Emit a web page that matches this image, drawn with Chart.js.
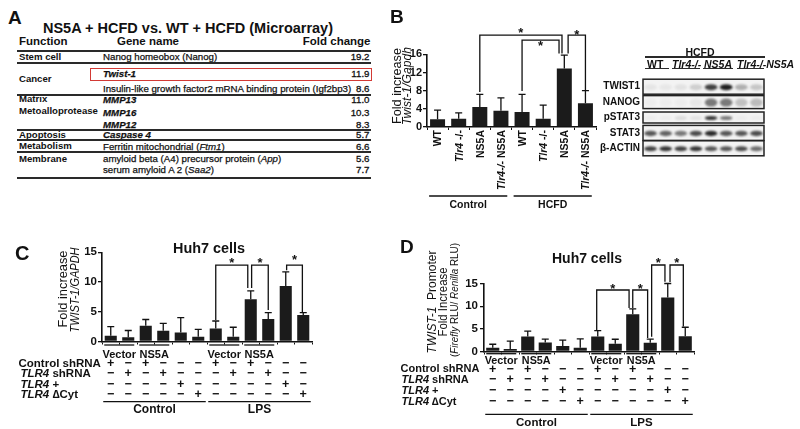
<!DOCTYPE html>
<html>
<head>
<meta charset="utf-8">
<script src="https://cdn.jsdelivr.net/npm/chart.js@4.4.1/dist/chart.umd.min.js"></script>
<style>
  body { margin: 0; background: #fff; }
  #fig { position: relative; width: 800px; height: 429px; overflow: hidden; color: #111;
         font-family: "Liberation Sans", Arial, Helvetica, sans-serif; }
  #fig canvas { position: absolute; }
  .t { position: absolute; white-space: nowrap; line-height: 1; }
  .ln { position: absolute; background: #2a2a2a; }
</style>
</head>
<body>
<div id="fig">
  <canvas id="chartB"></canvas>
  <canvas id="chartC"></canvas>
  <canvas id="chartD"></canvas>
  <canvas id="blot"></canvas>
</div>
<script>
// ---- data: panel A (microarray table)
const aFunctions = ['Stem cell', 'Cancer', 'Matrix', 'Metoalloprotease', 'Apoptosis', 'Metabolism', 'Membrane'];
const aGenes = ['Nanog homeobox (Nanog)', '<b><i>Twist-1</i></b>',
  'Insulin-like growth factor2 mRNA binding protein (Igf2bp3)',
  '<b><i>MMP13</i></b>', '<b><i>MMP16</i></b>', '<b><i>MMP12</i></b>', '<b><i>Caspase 4</i></b>',
  'Ferritin mitochondrial (<i>Ftm1</i>)', 'amyloid beta (A4) precursor protein (<i>App</i>)',
  'serum amyloid A 2 (<i>Saa2</i>)'];
const aFold = [19.2, 11.9, 8.6, 11.0, 10.3, 8.3, 5.7, 6.6, 5.6, 7.7];

// ---- data: panel B
const bLabels = ['WT', '<i>Tlr4</i> -/-', 'NS5A', '<i>Tlr4-/-</i> NS5A', 'WT', '<i>Tlr4</i> -/-', 'NS5A', '<i>Tlr4-/-</i> NS5A'];
const bMean = [1.7, 1.8, 4.4, 3.6, 3.3, 1.8, 12.9, 5.2];
const bErrTop = [3.7, 3.1, 7.2, 6.4, 7.2, 4.8, 15.8, 8.0];
const bGroups = [['Control', 0, 3], ['HCFD', 4, 7]];

// ---- data: western blot (HCFD)
const blotRows = ['TWIST1', 'NANOG', 'pSTAT3', 'STAT3', 'β-ACTIN'];
const blotTwist1 = [0.06, 0.05, 0.07, 0.16, 0.8, 0.95, 0.3, 0.2];
const blotNanog = [0.03, 0.03, 0.03, 0.05, 0.55, 0.55, 0.22, 0.25];
const blotPstat3 = [0.03, 0.03, 0.1, 0.07, 0.85, 0.55, 0.03, 0.03];
const blotStat3 = [0.7, 0.65, 0.55, 0.75, 0.9, 0.7, 0.7, 0.75];
const blotActin = [0.8, 0.85, 0.8, 0.85, 0.7, 0.7, 0.75, 0.6];
const blotGroups = ['WT', '<i>Tlr4-/-</i>', '<i>NS5A</i>', '<i>Tlr4-/-NS5A</i>'];

// ---- data: panels C and D (Huh7 cells)
const cMean = [0.95, 0.7, 2.65, 1.8, 1.5, 0.8, 2.2, 0.8, 7.1, 3.8, 9.35, 4.45];
const cErrTop = [2.5, 1.85, 3.7, 3.05, 4.0, 2.05, 3.45, 2.4, 8.5, 4.85, 11.7, 4.85];
const dMean = [0.85, 0.55, 3.3, 2.0, 1.2, 0.85, 3.3, 1.7, 8.2, 1.95, 11.9, 3.35];
const dErrTop = [1.6, 2.3, 4.5, 2.75, 2.5, 2.8, 4.6, 2.7, 9.4, 2.75, 15.0, 5.35];
const hLabels = ['1', '2', '3', '4', '5', '6', '7', '8', '9', '10', '11', '12'];
const rowNames = ['Control shRNA', '<i>TLR4</i> shRNA', '<i>TLR4</i> +', '<i>TLR4</i> ∆Cyt'];
const rowControlSh = ['+', '−', '+', '−', '−', '−', '+', '−', '+', '−', '−', '−'];
const rowTlr4Sh    = ['−', '+', '−', '+', '−', '−', '−', '+', '−', '+', '−', '−'];
const rowTlr4Plus  = ['−', '−', '−', '−', '+', '−', '−', '−', '−', '−', '+', '−'];
const rowTlr4Dcyt  = ['−', '−', '−', '−', '−', '+', '−', '−', '−', '−', '−', '+'];
const vecGroups = [['Vector', 0, 1], ['NS5A', 2, 3], ['Vector', 6, 7], ['NS5A', 8, 9]];
const treatGroups = [['Control', 0, 5], ['LPS', 6, 11]];

// significance brackets: bar a -> bar b, top level and leg ends in axis units
const bBrackets = [
  { a: 2, da: 0, b: 6, db: -0.11, top: 20.2, ya: 7.7, yb: 16.2, sy: -5 },
  { a: 4, da: 0, b: 6, db: -0.25, top: 19.1, ya: 7.9, yb: 16.2, sy: 3 },
  { a: 6, da: 0.18, b: 7, db: 0, top: 20.2, ya: 16.2, yb: 8.1, sy: -2.5 }
];
const cBrackets = [
  { a: 6, da: 0, b: 8, db: -0.17, top: 12.85, ya: 3.6, yb: 9.0, sy: -5 },
  { a: 8, da: 0.05, b: 9, db: 0, top: 12.85, ya: 9.0, yb: 5.3, sy: -5 },
  { a: 10, da: 0.05, b: 11, db: -0.05, top: 12.85, ya: 12.0, yb: 4.95, sy: -8 }
];
const dBrackets = [
  { a: 6, da: -0.06, b: 8, db: -0.21, top: 13.57, ya: 4.75, yb: 9.6, sy: -3.5 },
  { a: 8, da: 0, b: 9, db: -0.15, top: 13.57, ya: 9.6, yb: 3.0, sy: -3.5 },
  { a: 9, da: 0.08, b: 10, db: -0.16, top: 19.08, ya: 3.25, yb: 15.4, sy: -5 },
  { a: 10, da: 0.13, b: 11, db: -0.11, top: 19.08, ya: 15.35, yb: 5.5, sy: -5 }
];

const FONT = "'Liberation Sans', Arial, Helvetica, sans-serif";
const NARROW = "'Liberation Sans Narrow', 'Liberation Sans', Arial, sans-serif";
Chart.defaults.font.family = FONT;
Chart.defaults.color = '#111';

const fig = document.getElementById('fig');

// html text label, y is the vertical centre; w squeezes/stretches to a width
function lab(html, x, y, o = {}) {
  const el = document.createElement('div');
  el.className = 't';
  el.innerHTML = html;
  el.style.fontSize = (o.size || 10) + 'px';
  el.style.fontWeight = o.bold ? 'bold' : 'normal';
  if (o.italic) el.style.fontStyle = 'italic';
  if (o.stroke) el.style.webkitTextStroke = o.stroke + 'px #111';
  el.style.left = x + 'px';
  el.style.top = y + 'px';
  fig.appendChild(el);
  const s = o.w ? o.w / el.getBoundingClientRect().width : 1;
  const al = o.align || 'l';
  if (o.rot) {
    el.style.transform = `translate(-50%,-50%) rotate(-90deg) scaleX(${s})`;
  } else {
    const tx = al === 'c' ? '-50%' : al === 'r' ? '-100%' : '0px';
    el.style.transformOrigin = (al === 'c' ? '50%' : al === 'r' ? '100%' : '0%') + ' 50%';
    el.style.transform = `translate(${tx},-50%) scaleX(${s})`;
  }
  return el;
}
function hline(x0, x1, y, t = 1.6, color = '#2a2a2a') {
  const el = document.createElement('div');
  el.className = 'ln';
  el.style.left = x0 + 'px'; el.style.width = (x1 - x0) + 'px';
  el.style.top = (y - t / 2) + 'px'; el.style.height = t + 'px';
  el.style.background = color;
  fig.appendChild(el);
}

// canvas text with <i>..</i> parts
function drawRich(ctx, s, x, y, size, align, family) {
  const parts = [];
  const re = /<i>(.*?)<\/i>/g;
  let last = 0, m;
  while ((m = re.exec(s))) {
    if (m.index > last) parts.push([s.slice(last, m.index), false]);
    parts.push([m[1], true]);
    last = re.lastIndex;
  }
  if (last < s.length) parts.push([s.slice(last), false]);
  const font = it => `${it ? 'italic ' : ''}bold ${size}px ${family || FONT}`;
  let w = 0;
  parts.forEach(p => { ctx.font = font(p[1]); w += ctx.measureText(p[0]).width; });
  let cx = align === 'center' ? x - w / 2 : align === 'right' ? x - w : x;
  ctx.textAlign = 'left';
  ctx.textBaseline = 'middle';
  parts.forEach(p => { ctx.font = font(p[1]); ctx.fillText(p[0], cx, y); cx += ctx.measureText(p[0]).width; });
}

// ---------- Panel A: table
lab('A', 8, 16.5, { size: 19, bold: true });
lab('NS5A + HCFD vs. WT + HCFD (Microarray)', 43, 28, { size: 14.5, bold: true, w: 290 });
lab('Function', 19, 42, { size: 11.5, bold: true });
lab('Gene name', 117, 42, { size: 11.5, bold: true });
lab('Fold change', 370.5, 42, { size: 11.5, bold: true, align: 'r' });
const aFuncY = [57, 78.7, 99.3, 111.3, 134.5, 146, 159.3];
aFunctions.forEach((f, i) => lab(f, 19, aFuncY[i], { size: 9.6, bold: true }));
const aRowY = [57, 74, 89, 99.5, 113, 124.5, 135, 146.5, 159, 170];
aGenes.forEach((g, i) => lab(g, 103, aRowY[i], { size: 9.7, stroke: 0.25 }));
aFold.forEach((v, i) => lab(v.toFixed(1), 369.5, aRowY[i], { size: 9.7, stroke: 0.3, align: 'r' }));
[51, 62.7, 94.7, 130, 140.2, 151.8, 177.7].forEach(y => hline(17, 371, y, 1.8));
const box = document.createElement('div');
Object.assign(box.style, { position: 'absolute', left: '90px', top: '68px', width: '280px', height: '10.5px',
  border: '1.4px solid #d23a35' });
fig.appendChild(box);

// ---------- bar chart factory
function makeBars(id, pos, area, labels, mean, errTop, yMax, yStep, tick, barPct, brackets, drawExtra) {
  const cv = document.getElementById(id);
  cv.width = pos.w; cv.height = pos.h;
  cv.style.left = pos.left + 'px'; cv.style.top = pos.top + 'px';
  const deco = {
    id: 'deco',
    afterDatasetsDraw(chart) {
      const { ctx, scales: { x, y }, chartArea } = chart;
      const cw = x.getPixelForValue(1) - x.getPixelForValue(0);
      ctx.save();
      ctx.strokeStyle = '#111'; ctx.fillStyle = '#111'; ctx.lineWidth = 1.3;
      errTop.forEach((e, i) => {
        const px = x.getPixelForValue(i), y0 = y.getPixelForValue(mean[i]), y1 = y.getPixelForValue(e);
        ctx.beginPath();
        ctx.moveTo(px, y0); ctx.lineTo(px, y1);
        ctx.moveTo(px - 3.5, y1); ctx.lineTo(px + 3.5, y1);
        ctx.stroke();
      });
      brackets.forEach(b => {
        const xa = x.getPixelForValue(b.a) + b.da * cw, xb = x.getPixelForValue(b.b) + b.db * cw;
        const yt = y.getPixelForValue(b.top);
        ctx.beginPath();
        ctx.moveTo(xa, y.getPixelForValue(b.ya)); ctx.lineTo(xa, yt);
        ctx.lineTo(xb, yt); ctx.lineTo(xb, y.getPixelForValue(b.yb));
        ctx.stroke();
        ctx.font = `bold 13px ${FONT}`; ctx.textAlign = 'center'; ctx.textBaseline = 'middle';
        ctx.fillText('*', (xa + xb) / 2, yt + b.sy + 3);
      });
      drawExtra(ctx, x, y, chartArea, cw);
      ctx.restore();
    }
  };
  return new Chart(cv.getContext('2d'), {
    type: 'bar',
    data: { labels, datasets: [{ data: mean, backgroundColor: '#1b1b1b', barPercentage: barPct, categoryPercentage: 1 }] },
    options: {
      responsive: false, animation: false, devicePixelRatio: 1,
      layout: { padding: { left: 0, top: area.top - pos.top, right: pos.left + pos.w - area.right,
                           bottom: pos.top + pos.h - area.bottom } },
      plugins: { legend: { display: false }, tooltip: { enabled: false } },
      scales: {
        x: { grid: { drawOnChartArea: false, tickLength: 3, color: '#111' }, border: { color: '#111', width: 1.6 },
             ticks: { display: false }, afterFit: s => { s.height = 0; } },
        y: { min: 0, max: yMax, ticks: { stepSize: yStep, padding: tick.pad, color: '#111', font: { size: tick.size, weight: 'bold', family: tick.family || FONT } },
             grid: { drawOnChartArea: false, tickLength: 4, color: '#111', lineWidth: 1.3 }, border: { color: '#111', width: 1.6 },
             afterFit: s => { s.width = area.left - pos.left; } }
      }
    },
    plugins: [deco]
  });
}

// ---------- Panel B
lab('B', 390, 15.5, { size: 19, bold: true });
lab('Fold increase', 396.5, 86, { size: 12, rot: true, w: 76 });
lab('<i>Twist-1/Gapdh</i>', 407, 86, { size: 12, rot: true, w: 78 });
makeBars('chartB', { left: 380, top: 20, w: 225, h: 195 }, { left: 427, top: 54.3, right: 596, bottom: 127 },
  bLabels, bMean, bErrTop, 16, 4, { size: 11, pad: 1, family: NARROW }, 0.71, bBrackets,
  (ctx, x, y, a, cw) => {
    bLabels.forEach((s, i) => {
      ctx.save();
      ctx.translate(x.getPixelForValue(i) + 1, a.bottom + 3);
      ctx.rotate(-Math.PI / 2);
      drawRich(ctx, s, 0, 0, 10.5, 'right', NARROW);
      ctx.restore();
    });
    ctx.lineWidth = 1.4;
    bGroups.forEach(([name, i0, i1]) => {
      const x0 = x.getPixelForValue(i0) - 0.4 * cw, x1 = x.getPixelForValue(i1) + 0.3 * cw;
      ctx.beginPath(); ctx.moveTo(x0, a.bottom + 69); ctx.lineTo(x1, a.bottom + 69); ctx.stroke();
      drawRich(ctx, name, (x0 + x1) / 2, a.bottom + 78, 10.5, 'center');
    });
  });

// ---------- western blot
lab('HCFD', 700, 51.7, { size: 10.5, bold: true, align: 'c' });
hline(645, 765, 57, 1.3);
const blotGX = [647, 672, 704, 737];
const blotUL = [[645, 669], [672, 700], [703, 733], [737, 764]];
blotGroups.forEach((g, i) => {
  lab(g, blotGX[i], 63.5, { size: 10.5, bold: true });
  hline(blotUL[i][0], blotUL[i][1], 68.5, 1.2);
});
{
  const cv = document.getElementById('blot');
  cv.width = 170; cv.height = 95;
  cv.style.left = '600px'; cv.style.top = '70px';
  const blotData = [blotTwist1, blotNanog, blotPstat3, blotStat3, blotActin];
  const boxH = [15, 13, 11, 15, 15];
  const bandH = [6, 8, 4, 5.5, 5];
  new Chart(cv.getContext('2d'), {
    type: 'scatter',
    data: { labels: blotRows, datasets: [{ data: [] }] },
    options: {
      responsive: false, animation: false, devicePixelRatio: 1,
      layout: { padding: { left: 0, top: 1, right: 6, bottom: 4.3 } },
      plugins: { legend: { display: false }, tooltip: { enabled: false } },
      scales: {
        x: { type: 'linear', min: 0.5, max: 8.5, display: false },
        y: { type: 'category', labels: blotRows, offset: true,
             grid: { display: false, drawTicks: false, tickLength: 0 }, border: { display: false },
             ticks: { padding: 3, color: '#111', font: { size: 10, weight: 'bold' } }, afterFit: s => { s.width = 43; } }
      }
    },
    plugins: [{
      id: 'bands',
      afterDraw(chart) {
        const { ctx, chartArea: a, scales: { x, y } } = chart;
        blotData.forEach((row, r) => {
          const cy = y.getPixelForValue(r), h = boxH[r];
          ctx.save();
          ctx.fillStyle = '#f3f3f3';
          ctx.fillRect(a.left, cy - h / 2, a.right - a.left, h);
          ctx.beginPath(); ctx.rect(a.left, cy - h / 2, a.right - a.left, h); ctx.clip();
          ctx.filter = 'blur(1.2px)';
          row.forEach((v, l) => {
            ctx.fillStyle = `rgba(20,20,20,${v})`;
            ctx.beginPath();
            ctx.ellipse(x.getPixelForValue(l + 1), cy + 0.5, 6.3, bandH[r] / 2, 0, 0, Math.PI * 2);
            ctx.fill();
          });
          ctx.restore();
          ctx.strokeStyle = '#222'; ctx.lineWidth = 1.5;
          ctx.strokeRect(a.left, cy - h / 2, a.right - a.left, h);
        });
      }
    }]
  });
}

// ---------- Panels C and D
function rowsExtra(o) {
  const rows = [rowControlSh, rowTlr4Sh, rowTlr4Plus, rowTlr4Dcyt];
  return (ctx, x, y, a) => {
    ctx.lineWidth = 1.3;
    vecGroups.forEach(([name, i0, i1]) => {
      const x0 = x.getPixelForValue(i0) - 6.5, x1 = x.getPixelForValue(i1) + 6;
      ctx.beginPath(); ctx.moveTo(x0, a.bottom + o.ovl); ctx.lineTo(x1, a.bottom + o.ovl); ctx.stroke();
      drawRich(ctx, name, (x0 + x1) / 2, a.bottom + o.vecY, o.vec, 'center');
    });
    rows.forEach((row, r) => {
      drawRich(ctx, rowNames[r], o.nameX[r], a.bottom + o.rowY[r], o.size, 'left');
      row.forEach((m, i) => drawRich(ctx, m, x.getPixelForValue(i), a.bottom + o.rowY[r], o.mark, 'center'));
    });
    treatGroups.forEach(([name, i0, i1]) => {
      const x0 = x.getPixelForValue(i0) - 7.5, x1 = x.getPixelForValue(i1) + 7.5;
      ctx.beginPath(); ctx.moveTo(x0, a.bottom + o.line); ctx.lineTo(x1, a.bottom + o.line); ctx.stroke();
      drawRich(ctx, name, (x0 + x1) / 2, a.bottom + o.grpY, o.size + 0.5, 'center');
    });
  };
}

lab('C', 15, 252.5, { size: 20, bold: true });
lab('Huh7 cells', 209, 247.7, { size: 14, bold: true, align: 'c', w: 72 });
lab('Fold increase', 63, 289, { size: 12.5, rot: true, w: 77 });
lab('<i>TWIST-1/GAPDH</i>', 75, 290, { size: 12.5, rot: true, w: 85 });
makeBars('chartC', { left: 0, top: 235, w: 320, h: 194 }, { left: 102, top: 252.3, right: 312, bottom: 341.5 },
  hLabels, cMean, cErrTop, 15, 5, { size: 11.5, pad: 1 }, 0.69, cBrackets,
  rowsExtra({ ovl: 3.5, vecY: 13, vec: 11, rowY: [22, 32.5, 43, 53.5], nameX: [18.5, 20.5, 20.5, 20.5],
              line: 60.2, grpY: 68, size: 11.5, mark: 12.5 }));

lab('D', 400, 245.5, { size: 19, bold: true });
lab('Huh7 cells', 586.7, 258.3, { size: 14, bold: true, align: 'c', w: 70 });
lab('<i>TWIST-1</i>&nbsp; Promoter', 431.5, 301.5, { size: 12, rot: true, w: 103 });
lab('Fold Increase', 442.5, 302, { size: 12, rot: true, w: 69 });
lab('(<i>Firefly</i> RLU/ <i>Renilla</i> RLU)', 454, 300, { size: 10.5, rot: true, w: 114 });
makeBars('chartD', { left: 400, top: 235, w: 300, h: 194 }, { left: 484, top: 283.5, right: 694, bottom: 351.5 },
  hLabels, dMean, dErrTop, 15, 5, { size: 11.5, pad: 2 }, 0.75, dBrackets,
  rowsExtra({ ovl: 2.2, vecY: 9.2, vec: 10.8, rowY: [17.8, 28, 39.2, 50.2], nameX: [0.5, 1.5, 1.5, 1.5],
              line: 62.8, grpY: 71.2, size: 11, mark: 12.5 }));
</script>
</body>
</html>
